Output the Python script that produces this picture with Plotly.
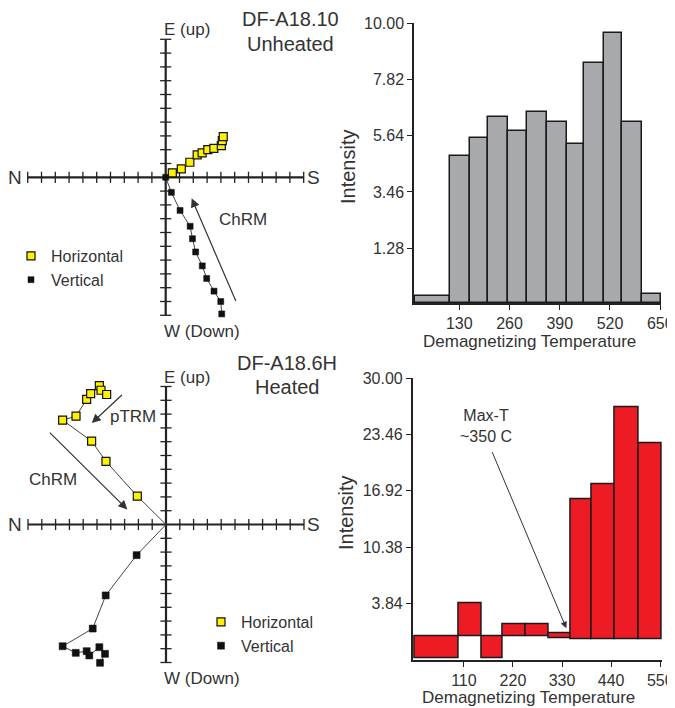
import plotly.graph_objects as go

W, H = 675, 708
OFF = 8  # page body margin in the browser; positions below are reference pixels
FONT = "Liberation Sans, Arial, Helvetica, sans-serif"
TXT = "#333333"
AX = "#222222"

# ---------------- data ----------------
# Top Zijderveld (unheated) - tick units
unheated_h_x = [0.48, 1.13, 1.75, 2.28, 2.64, 3.05, 3.49, 4.03, 4.10, 4.17]
unheated_h_y = [0.32, 0.61, 1.09, 1.62, 1.77, 2.00, 2.10, 2.30, 2.66, 2.95]
unheated_v_x = [0.00, 0.41, 1.04, 1.77, 1.94, 2.17, 2.65, 2.97, 3.50, 3.99, 4.06]
unheated_v_y = [0.00, -1.09, -2.40, -3.55, -4.45, -5.41, -6.42, -7.33, -8.25, -9.00, -9.90]

# Bottom Zijderveld (heated)
heated_h_x = [-2.08, -4.35, -5.39, -7.49, -6.52, -5.75, -5.46, -4.83, -4.71, -4.30]
heated_h_y = [2.05, 4.57, 6.04, 7.56, 7.85, 9.06, 9.49, 10.07, 9.73, 9.42]
heated_v_x = [-2.13, -4.37, -5.31, -7.49, -6.54, -5.75, -5.56, -4.83, -4.42, -4.78]
heated_v_y = [-2.22, -5.14, -7.54, -8.82, -9.30, -9.18, -9.49, -8.89, -9.37, -10.02]

# Top histogram (unheated)
unheated_edges = [16, 107, 157, 204, 256, 306, 358, 408, 453, 504, 552, 604, 653]
unheated_int = [-0.56, 4.85, 5.54, 6.36, 5.81, 6.57, 6.15, 5.31, 8.45, 9.61, 6.15, -0.50]
unheated_yticks = [1.28, 3.46, 5.64, 7.82, 10.00]
unheated_xticks = [130, 260, 390, 520, 650]

# Bottom histogram (heated)
heated_edges = [0, 99, 150, 198, 249, 301, 349, 397, 448, 502, 553]
heated_low = [-2.6, 0.0, -2.6, 0.0, 0.0, -0.23, -0.35, -0.35, -0.35, -0.35]
heated_high = [0.0, 3.84, 0.0, 1.43, 1.43, 0.35, 15.97, 17.67, 26.6, 22.44]
heated_yticks = [3.84, 10.38, 16.92, 23.46, 30.00]
heated_xticks = [110, 220, 330, 440, 550]

axis_ticks = list(range(-10, 11))

fig = go.Figure()


def fx(p):
    return (p - OFF) / W


def fy(p):
    return 1 - (p - OFF) / H


def dom_x(p0, p1):
    return [fx(p0), fx(p1)]


def dom_y(p0, p1):  # p0 top pixel, p1 bottom pixel
    return [fy(p1), fy(p0)]


def zij_layout(ox, oy, s, x0, x1, y0, y1):
    xr = [(x0 - ox) / s, (x1 - ox) / s]
    yr = [(oy - y1) / s, (oy - y0) / s]
    return dict(domain=dom_x(x0, x1), range=xr), dict(domain=dom_y(y0, y1), range=yr)


zx1, zy1 = zij_layout(165.7, 177.3, 13.8, OFF, 335, OFF, 350)
zx3, zy3 = zij_layout(166.0, 524.5, 13.8, OFF, 335, 350, 708)

hidden = dict(visible=False, showgrid=False, zeroline=False, fixedrange=True, automargin=False)


def add_cross(xa, ya):
    fig.add_trace(go.Scatter(x=[-10, 10], y=[0, 0], mode="lines", line=dict(color=AX, width=2.2),
                             xaxis=xa, yaxis=ya, showlegend=False, hoverinfo="skip"))
    fig.add_trace(go.Scatter(x=[0, 0], y=[-10, 10], mode="lines", line=dict(color=AX, width=2.2),
                             xaxis=xa, yaxis=ya, showlegend=False, hoverinfo="skip"))
    tk = [t for t in axis_ticks if t != 0]
    fig.add_trace(go.Scatter(x=tk, y=[0] * len(tk), mode="markers",
                             marker=dict(symbol="line-ns", size=8, line=dict(color=AX, width=1.3)),
                             xaxis=xa, yaxis=ya, showlegend=False, hoverinfo="skip"))
    fig.add_trace(go.Scatter(x=[0] * len(tk), y=tk, mode="markers",
                             marker=dict(symbol="line-ew", size=8, line=dict(color=AX, width=1.3)),
                             xaxis=xa, yaxis=ya, showlegend=False, hoverinfo="skip"))


def add_zij(xa, ya, hx, hy, vx, vy, legend, vsize):
    fig.add_trace(go.Scatter(x=[0] + hx, y=[0] + hy, mode="lines", line=dict(color="#444", width=1),
                             xaxis=xa, yaxis=ya, showlegend=False, hoverinfo="skip"))
    lx = vx if vx[0] == 0 else [0] + vx
    ly = vy if vx[0] == 0 else [0] + vy
    fig.add_trace(go.Scatter(x=lx, y=ly, mode="lines", line=dict(color="#444", width=1),
                             xaxis=xa, yaxis=ya, showlegend=False, hoverinfo="skip"))
    fig.add_trace(go.Scatter(x=hx, y=hy, mode="markers", name="Horizontal",
                             marker=dict(symbol="square", size=8, color="#FFF200",
                                         line=dict(color="#111", width=1.2)),
                             xaxis=xa, yaxis=ya, legend=legend))
    fig.add_trace(go.Scatter(x=vx, y=vy, mode="markers", name="Vertical",
                             marker=dict(symbol="square", size=vsize, color="#111",
                                         line=dict(color="#111", width=0.5)),
                             xaxis=xa, yaxis=ya, legend=legend))


add_cross("x", "y")
add_zij("x", "y", unheated_h_x, unheated_h_y, unheated_v_x, unheated_v_y, "legend", 6)
add_cross("x3", "y3")
add_zij("x3", "y3", heated_h_x, heated_h_y, heated_v_x, heated_v_y, "legend2", 7)


def bars(edges, lows, highs):
    cx = [(a + b) / 2 for a, b in zip(edges[:-1], edges[1:])]
    wd = [(b - a) for a, b in zip(edges[:-1], edges[1:])]
    hts = [h - l for l, h in zip(lows, highs)]
    return cx, wd, hts


UY_MIN = -0.84
cx, wd, hts = bars(unheated_edges, [UY_MIN] * len(unheated_int), unheated_int)
fig.add_trace(go.Bar(x=cx, width=wd, y=hts, base=[UY_MIN] * len(hts),
                     marker=dict(color="#A7A9AC", line=dict(color="#1a1a1a", width=1.5)),
                     xaxis="x2", yaxis="y2", showlegend=False))

cx, wd, hts = bars(heated_edges, heated_low, heated_high)
fig.add_trace(go.Bar(x=cx, width=wd, y=hts, base=heated_low,
                     marker=dict(color="#ED1C24", line=dict(color="#1a1a1a", width=1.5)),
                     xaxis="x4", yaxis="y4", showlegend=False))

hist_ax = dict(showline=True, linecolor=AX, linewidth=1.5, ticks="outside", ticklen=5,
               tickwidth=1.3, tickcolor=AX, showgrid=False, zeroline=False, fixedrange=True,
               automargin=False, ticklabeloverflow="allow",
               tickfont=dict(family=FONT, size=16, color=TXT))

fig.update_layout(
    width=W, height=H, margin=dict(l=0, r=0, t=0, b=0, pad=0, autoexpand=False),
    paper_bgcolor="white", plot_bgcolor="rgba(0,0,0,0)",
    font=dict(family=FONT, color=TXT),
    bargap=0,
    xaxis=dict(**hidden, **zx1), yaxis=dict(**hidden, **zy1),
    xaxis3=dict(**hidden, **zx3), yaxis3=dict(**hidden, **zy3),
    xaxis2=dict(**hist_ax, domain=dom_x(414, 661), range=[13, 652], anchor="y2",
                tickvals=unheated_xticks),
    yaxis2=dict(**hist_ax, domain=dom_y(23, 303), range=[UY_MIN, 10.0], anchor="x2",
                tickvals=unheated_yticks, ticktext=[f"{v:.2f}" for v in unheated_yticks]),
    xaxis4=dict(**hist_ax, domain=dom_x(412.7, 662), range=[-4.7, 554], anchor="y4",
                tickvals=heated_xticks),
    yaxis4=dict(**hist_ax, domain=dom_y(378.3, 660), range=[-2.75, 30.0], anchor="x4",
                tickvals=heated_yticks, ticktext=[f"{v:.2f}" for v in heated_yticks]),
    legend=dict(x=fx(11), y=fy(239), xanchor="left", yanchor="top", bgcolor="rgba(0,0,0,0)",
                font=dict(family=FONT, size=16, color=TXT), tracegroupgap=0, itemwidth=30),
    legend2=dict(x=fx(201), y=fy(605), xanchor="left", yanchor="top", bgcolor="rgba(0,0,0,0)",
                 font=dict(family=FONT, size=16, color=TXT), tracegroupgap=0, itemwidth=30),
)


def ptxt(text, x, y, size=17, **kw):
    fig.add_annotation(text=text, x=fx(x), y=fy(y), xref="paper", yref="paper",
                       xanchor="center", yanchor="middle",
                       showarrow=False, font=dict(family=FONT, size=size, color=TXT), **kw)


# Zijderveld axis labels
for oy, top, bot in [(177.3, 30, 331), (524.5, 377, 678)]:
    ptxt("N", 15, oy, size=19)
    ptxt("S", 313, oy, size=19)
    ptxt("E (up)", 187, top, size=17)
    ptxt("W (Down)", 202, bot, size=17)

ptxt("DF-A18.10", 290, 19, size=20)
ptxt("Unheated", 290, 44, size=20)
ptxt("DF-A18.6H", 287, 363, size=20)
ptxt("Heated", 287, 387, size=20)

# Histogram axis titles
ptxt("Intensity", 348, 167, size=20, textangle=-90)
ptxt("Intensity", 346, 513, size=20, textangle=-90)
ptxt("Demagnetizing Temperature", 529, 342, size=17)
ptxt("Demagnetizing Temperature", 528, 697, size=17)


# Arrows on Zijderveld plots
def arrow(xa, ya, x0, y0, x1, y1):
    fig.add_annotation(x=x1, y=y1, ax=x0, ay=y0, xref=xa, yref=ya, axref=xa, ayref=ya,
                       text="", showarrow=True, arrowhead=2, arrowsize=1.5, arrowwidth=1.2,
                       arrowcolor="#333")


def dtxt(text, xa, ya, x, y, size=17):
    fig.add_annotation(x=x, y=y, xref=xa, yref=ya, text=text, showarrow=False,
                       xanchor="center", yanchor="middle",
                       font=dict(family=FONT, size=size, color=TXT))


arrow("x", "y", 5.13, -9.08, 1.88, -1.52)
dtxt("ChRM", "x", "y", 5.6, -3.09)
arrow("x3", "y3", -3.09, 9.49, -5.38, 7.35)
dtxt("pTRM", "x3", "y3", -2.39, 7.8)
arrow("x3", "y3", -8.53, 6.76, -2.8, 1.09)
dtxt("ChRM", "x3", "y3", -8.19, 3.26)

# Max-T annotation on heated histogram
dtxt("Max-T<br>~350 C", "x4", "y4", 160, 24.4, size=16)
fig.add_annotation(x=339.6, y=0.93, ax=172, ay=21.6, xref="x4", yref="y4", axref="x4", ayref="y4",
                   text="", showarrow=True, arrowhead=2, arrowsize=1.3, arrowwidth=1.0,
                   arrowcolor="#333")

fig.write_html("out.html")
